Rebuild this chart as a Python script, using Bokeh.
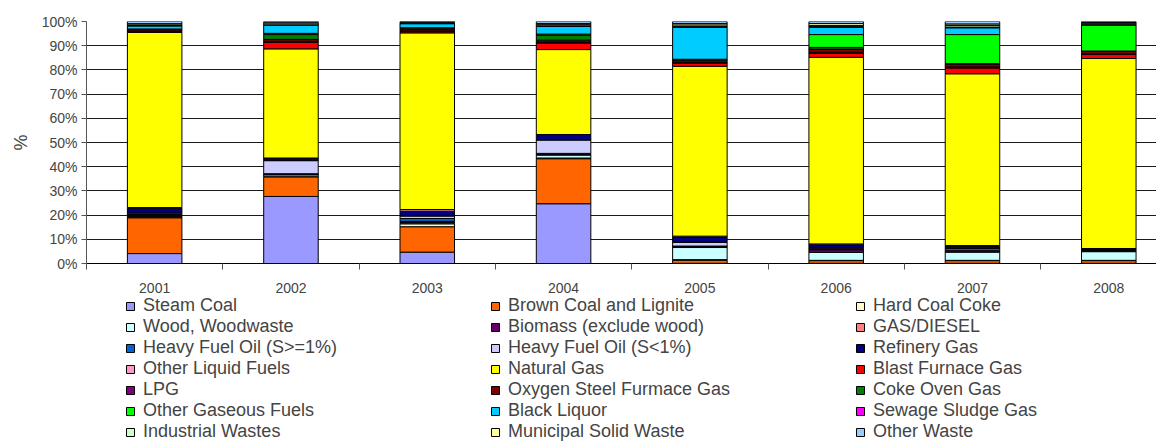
from bokeh.plotting import figure
from bokeh.models import (ColumnDataSource, Legend, LegendItem, FixedTicker,
                          PrintfTickFormatter, Range1d)
from bokeh.layouts import column
from bokeh.embed import file_html
from bokeh.resources import INLINE

years = ["2001", "2002", "2003", "2004", "2005", "2006", "2007", "2008"]

series_names = [
    "Steam Coal", "Brown Coal and Lignite", "Hard Coal Coke",
    "Wood, Woodwaste", "Biomass (exclude wood)", "GAS/DIESEL",
    "Heavy Fuel Oil (S>=1%)", "Heavy Fuel Oil (S<1%)", "Refinery Gas",
    "Other Liquid Fuels", "Natural Gas", "Blast Furnace Gas",
    "LPG", "Oxygen Steel Furmace Gas", "Coke Oven Gas",
    "Other Gaseous Fuels", "Black Liquor", "Sewage Sludge Gas",
    "Industrial Wastes", "Municipal Solid Waste", "Other Waste",
]

steam = [4.1, 27.7, 4.7, 24.7, 0.1, 0.1, 0.1, 0.1]
brown = [14.8, 8.1, 10.5, 18.6, 1.3, 1.1, 1.1, 1.1]
hcc = [0.3, 0.3, 1.2, 0.3, 0.2, 0.1, 0.1, 0.1]
wood = [0.3, 0.6, 0.4, 1.2, 5.0, 3.3, 3.4, 3.6]
biomass = [0.4, 0.1, 0.3, 0.3, 0.3, 1.1, 0.4, 0.3]
gasdiesel = [0.3, 0.1, 0.3, 0.2, 0.1, 0.3, 0.2, 0.1]
hfo_hi = [0.3, 0.2, 1.2, 0.2, 0.2, 0.3, 0.2, 0.1]
hfo_lo = [0.4, 5.4, 1.0, 5.5, 1.5, 0.3, 0.6, 0.2]
refinery = [1.9, 1.0, 2.0, 2.0, 2.3, 1.1, 0.9, 0.4]
other_liq = [0.3, 0.1, 0.7, 0.3, 0.3, 0.4, 0.4, 0.2]
natgas = [72.4, 45.1, 73.0, 35.1, 70.2, 77.1, 71.0, 78.5]
blast = [0.3, 2.7, 0.5, 2.7, 1.3, 1.6, 2.4, 1.7]
lpg = [0.2, 0.4, 0.3, 0.4, 0.2, 0.5, 0.4, 0.3]
oxy = [0.6, 0.8, 0.8, 0.8, 0.8, 1.3, 1.2, 0.9]
coke = [0.3, 2.0, 0.5, 2.0, 0.3, 0.7, 0.2, 0.2]
other_gas = [0.0, 0.5, 0.0, 0.5, 0.3, 5.3, 12.0, 10.7]
black_liq = [1.3, 3.3, 1.7, 3.2, 13.2, 3.0, 2.8, 0.2]
sewage = [0.1, 0.1, 0.1, 0.2, 0.3, 0.3, 0.3, 0.2]
ind_waste = [0.3, 0.5, 0.3, 0.5, 0.7, 0.5, 0.7, 0.4]
msw = [0.5, 0.5, 0.2, 0.5, 0.6, 0.8, 0.6, 0.3]
other_waste = [0.9, 0.5, 0.3, 0.8, 0.8, 0.8, 1.0, 0.4]

series_values = [steam, brown, hcc, wood, biomass, gasdiesel, hfo_hi, hfo_lo,
                 refinery, other_liq, natgas, blast, lpg, oxy, coke, other_gas,
                 black_liq, sewage, ind_waste, msw, other_waste]

colors = ["#9999FF", "#FF6600", "#FFFFCC", "#CCFFFF", "#660066", "#FF8080",
          "#0066CC", "#CCCCFF", "#000080", "#FF99CC", "#FFFF00", "#FF0000",
          "#800080", "#800000", "#008000", "#00FF00", "#00CCFF", "#FF00FF",
          "#CCFFCC", "#FFFF99", "#99CCFF"]

FONT = "Liberation Sans"
W = 1156
LEFT = 86

xs = list(range(1, len(years) + 1))
data = {"x": xs}
keys = []
for i, vals in enumerate(series_values):
    k = f"s{i}"
    keys.append(k)
    data[k] = vals
source = ColumnDataSource(data)

p = figure(width=W, height=295, output_backend="svg", toolbar_location=None,
           x_range=Range1d(0.5, 8.35), y_range=Range1d(0, 100),
           min_border_left=LEFT, min_border_right=0, min_border_top=21,
           min_border_bottom=32)
p.outline_line_color = None

renderers = p.vbar_stack(keys, x="x", width=0.4, source=source,
                         fill_color=colors, line_color="black", line_width=1)

p.xgrid.grid_line_color = None
p.ygrid.grid_line_color = "#1a1a1a"
p.ygrid.grid_line_width = 1
p.ygrid.ticker = FixedTicker(ticks=list(range(0, 101, 10)))

p.yaxis.ticker = FixedTicker(ticks=list(range(0, 101, 10)))
p.yaxis.formatter = PrintfTickFormatter(format="%d%%")
p.yaxis.axis_label = "%"
p.yaxis.axis_label_text_font = FONT
p.yaxis.axis_label_text_font_size = "18px"
p.yaxis.axis_label_text_font_style = "normal"
p.yaxis.axis_label_standoff = 8
p.yaxis.major_label_text_font = FONT
p.yaxis.major_label_text_font_size = "14px"
p.yaxis.major_label_standoff = 4
p.yaxis.major_tick_out = 5
p.yaxis.major_tick_in = 0
p.yaxis.minor_tick_out = 0
p.yaxis.minor_tick_in = 0
p.yaxis.axis_line_color = "#555555"
p.yaxis.major_tick_line_color = "#555555"

p.xaxis.ticker = FixedTicker(ticks=xs, minor_ticks=[x + 0.5 for x in range(0, 9)])
p.xaxis.major_label_overrides = {x: y for x, y in zip(xs, years)}
p.xaxis.major_label_text_font = FONT
p.xaxis.major_label_text_font_size = "14px"
p.xaxis.major_tick_out = 0
p.xaxis.major_tick_in = 0
p.xaxis.minor_tick_out = 6
p.xaxis.minor_tick_in = 0
p.xaxis.major_label_standoff = 13
p.xaxis.axis_line_color = "black"
p.xaxis.minor_tick_line_color = "#555555"

# legend figure: same bars, placed below its visible y range so only the legend shows
lf = figure(width=W, height=147, output_backend="svg", toolbar_location=None,
            x_range=Range1d(0.5, 8.35), y_range=Range1d(1000, 1100),
            min_border_left=LEFT, min_border_right=0, min_border_top=0,
            min_border_bottom=0)
lf.axis.visible = False
lf.grid.visible = False
lf.outline_line_color = None
lrend = lf.vbar_stack(keys, x="x", width=0.4, source=source,
                      fill_color=colors, line_color="black", line_width=1)

col_x = [126 - 1 - LEFT, 491 - 1 - LEFT, 856 - 1 - LEFT]
per_col = 7
for c in range(3):
    items = []
    for r in range(per_col):
        idx = c + 3 * r
        items.append(LegendItem(label=series_names[idx], renderers=[lrend[idx]]))
    leg = Legend(items=items, location=(col_x[c], 0), orientation="vertical",
                 border_line_color=None, background_fill_alpha=0,
                 padding=0, margin=0, spacing=0,
                 glyph_width=10, glyph_height=10, label_height=20,
                 label_standoff=8, label_text_font=FONT,
                 label_text_font_size="18px", label_text_baseline="middle")
    lf.add_layout(leg, "center")

layout = column(p, lf, spacing=0)
open("out.html", "w").write(file_html(layout, INLINE))
